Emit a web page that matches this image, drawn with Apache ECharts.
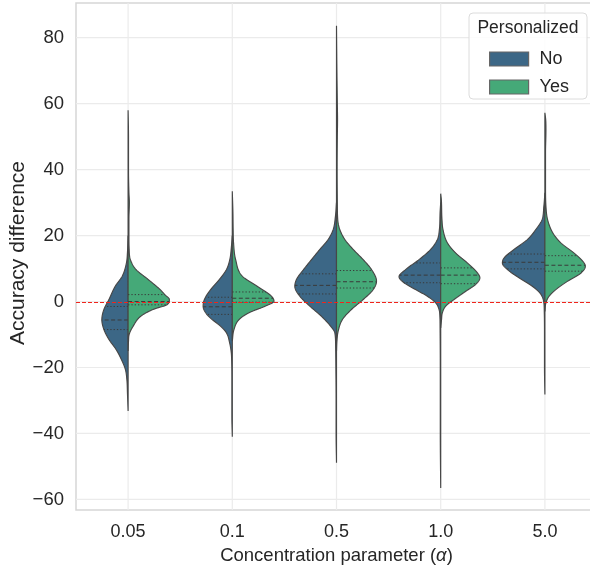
<!DOCTYPE html>
<html>
<head>
<meta charset="utf-8">
<script src="https://cdn.jsdelivr.net/npm/echarts@6/dist/echarts.min.js"></script>
<style>html,body{margin:0;padding:0;background:#fff}#c{width:590px;height:566px}</style>
</head>
<body>
<div id="c"></div>
<script>
// ---------------- data ----------------
const categories = ['0.05', '0.1', '0.5', '1.0', '5.0'];
const hues = ['No', 'Yes'];
const yTicks = [-60, -40, -20, 0, 20, 40, 60, 80];
const xTitle = 'Concentration parameter ({i|α})';
const yTitle = 'Accuracy difference';
const legendTitle = 'Personalized';

// density profiles: [value, relative density]
const densityNo = [
  [[-33.2,0],[-28,0.015],[-23.6,0.03],[-20.6,0.065],[-17.6,0.16],[-14.5,0.29],[-11.5,0.46],[-8.5,0.58],[-5.5,0.63],[-2.4,0.58],[0.6,0.46],[4.6,0.31],[7.7,0.14],[11.7,0.04],[15,0.015],[20,0]],
  [[-41,0],[-35,0.01],[-25,0.01],[-18,0.015],[-15.5,0.025],[-12.5,0.065],[-9.5,0.14],[-7.5,0.28],[-5.5,0.48],[-3.4,0.64],[-1.4,0.7],[0.6,0.67],[3.6,0.52],[6.7,0.31],[9.7,0.14],[12.7,0.06],[16.8,0.02],[20,0]],
  [[-48.9,0],[-40,0.01],[-30,0.01],[-20,0.015],[-14,0.02],[-9.5,0.04],[-7.5,0.14],[-4.5,0.36],[-1.4,0.64],[1.6,0.88],[4.6,1.0],[6.7,0.96],[9.7,0.79],[12.7,0.6],[15.8,0.4],[18.8,0.2],[21.8,0.08],[25.9,0.025],[30,0]],
  [[-56.5,0],[-40,0.01],[-20,0.01],[-8,0.015],[-4.5,0.02],[-2.4,0.04],[-0.4,0.12],[1.6,0.32],[3.6,0.6],[5.7,0.88],[7.5,1.0],[9.7,0.84],[12.7,0.52],[15.8,0.24],[18.8,0.08],[22,0.03],[26.9,0.015],[30,0]],
  [[-28.2,0],[-20,0.01],[-10,0.01],[-3,0.015],[0.6,0.04],[2.6,0.12],[4.6,0.3],[7.2,0.62],[9.7,0.9],[11.7,1.02],[13.2,0.98],[15.8,0.74],[18.8,0.42],[21.8,0.22],[24.8,0.07],[28.9,0.025],[33,0]]
];
const densityYes = [
  [[-15,0],[-12,0.01],[-10,0.025],[-7.5,0.12],[-4.4,0.31],[-2.4,0.6],[-0.9,0.94],[0.6,0.99],[2.1,0.88],[3.6,0.77],[6.7,0.48],[9.7,0.19],[12.7,0.055],[16,0.025],[20,0.02],[25,0.02],[30,0.03],[33,0.02],[40,0.01],[50,0.01],[58,0]],
  [[-12,0],[-8.5,0.04],[-5.5,0.16],[-3.4,0.4],[-1.4,0.79],[0.1,1.0],[1.6,0.94],[4.6,0.6],[7.7,0.24],[12.7,0.08],[17.8,0.03],[22,0.02],[27,0.015],[33.4,0]],
  [[-15,0],[-12,0.01],[-9,0.04],[-5.5,0.14],[-2.4,0.36],[0.6,0.64],[3.6,0.88],[6.2,0.96],[9.7,0.84],[12.7,0.64],[15.8,0.4],[18.8,0.2],[21.8,0.08],[24.8,0.03],[30,0.02],[40,0.015],[50,0.02],[55,0.025],[60,0.02],[70,0.01],[83.6,0]],
  [[-8,0],[-5.5,0.02],[-3.4,0.04],[-1.4,0.12],[0.6,0.32],[3.1,0.6],[5.2,0.84],[7.2,0.94],[8.7,0.88],[11.7,0.64],[14.7,0.36],[17.8,0.16],[21.8,0.055],[25,0.03],[30.9,0.015],[32.7,0]],
  [[-3,0],[-0.4,0.025],[1.6,0.1],[3.6,0.26],[6.2,0.55],[8.7,0.87],[10.7,0.97],[12.2,0.91],[14.7,0.7],[17.8,0.38],[20.8,0.19],[24.8,0.065],[28.9,0.025],[35,0.015],[45,0.015],[52,0.025],[55,0.02],[57.2,0]]
];
// quartiles [q1, median, q3]
const quartilesNo  = [[-8.5,-5.6,-1.5],[-3.9,-1.6,1.3],[2.3,4.9,8.4],[5.7,8.0,11.7],[9.9,11.9,14.4]];
const quartilesYes = [[-1.0,0.0,2.1],[-0.2,1.0,2.9],[4.1,6.0,9.4],[5.4,8.0,10.2],[9.2,11.0,13.9]];

// ---------------- styling ----------------
const FONT = "'Liberation Sans', Arial, sans-serif";
const TXT = '#262626';
const COLORS = {No: '#3c6786', Yes: '#45a978'};
const OUTLINE = '#474747';

// monotone cubic interpolator (for drawing smooth outlines)
function makeInterp(pts) {
  const xs = pts.map(p => p[0]), ys = pts.map(p => p[1]);
  const n = xs.length, d = [], m = new Array(n);
  for (let i = 0; i < n - 1; i++) d.push((ys[i+1]-ys[i])/(xs[i+1]-xs[i]));
  m[0] = d[0]; m[n-1] = d[n-2];
  for (let i = 1; i < n - 1; i++) m[i] = (d[i-1]*d[i] <= 0) ? 0 : (d[i-1]+d[i])/2;
  for (let i = 0; i < n - 1; i++) {
    if (d[i] === 0) { m[i] = 0; m[i+1] = 0; continue; }
    const a = m[i]/d[i], b = m[i+1]/d[i], s = a*a + b*b;
    if (s > 9) { const t = 3/Math.sqrt(s); m[i] = t*a*d[i]; m[i+1] = t*b*d[i]; }
  }
  return function (x) {
    if (x <= xs[0]) return ys[0];
    if (x >= xs[n-1]) return ys[n-1];
    let i = 0; while (x > xs[i+1]) i++;
    const h = xs[i+1]-xs[i], t = (x-xs[i])/h, t2 = t*t, t3 = t2*t;
    return (2*t3-3*t2+1)*ys[i] + (t3-2*t2+t)*h*m[i] + (-2*t3+3*t2)*ys[i+1] + (t3-t2)*h*m[i+1];
  };
}

function violinSeries(hue, profiles, quarts, side) {
  const interps = profiles.map(makeInterp);
  return {
    type: 'custom', name: hue, z: 3,
    itemStyle: {color: COLORS[hue]},
    data: categories.map((c, i) => [i]),
    encode: {x: 0},
    renderItem: function (params, api) {
      const i = api.value(0);
      const prof = profiles[i], f = interps[i];
      const band = api.size([1, 0])[0];
      const scale = band * 0.4;
      const cx = api.coord([i, 0])[0];
      const v0 = prof[0][0], v1 = prof[prof.length-1][0];
      const pts = [];
      const N = 400;
      for (let k = 0; k <= N; k++) {
        const v = v0 + (v1 - v0) * k / N;
        const w = Math.max(0, f(v)) * scale;
        pts.push([cx + side * w, api.coord([i, v])[1]]);
      }
      pts.push([cx, api.coord([i, v1])[1]]);
      pts.push([cx, api.coord([i, v0])[1]]);
      const children = [{
        type: 'polygon', shape: {points: pts},
        style: {fill: COLORS[hue], stroke: OUTLINE, lineWidth: 1.15}
      }];
      quarts[i].forEach((q, qi) => {
        const y = api.coord([i, q])[1];
        const w = Math.max(0, f(q)) * scale;
        children.push({
          type: 'line', shape: {x1: cx, y1: y, x2: cx + side * w, y2: y},
          style: {stroke: '#3a3a3a', lineWidth: 1, lineDash: qi === 1 ? [4, 2.5] : [1.3, 2]}
        });
      });
      return {type: 'group', children: children};
    }
  };
}

const chart = echarts.init(document.getElementById('c'), null, {renderer: 'canvas'});
const option = {
  animation: false,
  backgroundColor: '#fff',
  textStyle: {fontFamily: FONT},
  grid: {left: 76, right: -7, top: 3, bottom: 56, containLabel: false, outerBoundsMode: 'none',
    show: true, borderColor: '#d6d6d6', borderWidth: 1.5, backgroundColor: '#fff'},
  xAxis: {
    type: 'category', data: categories, boundaryGap: true,
    axisLine: {show: false}, axisTick: {show: false}, splitLine: {show: false},
    axisLabel: {color: TXT, fontSize: 18, margin: 13, fontFamily: FONT},
    name: xTitle, nameLocation: 'middle', nameGap: 36,
    nameTextStyle: {color: TXT, fontSize: 18.5, fontFamily: FONT,
      rich: {i: {fontStyle: 'italic', fontSize: 18.5, color: TXT, fontFamily: FONT}}}
  },
  yAxis: {
    type: 'value', min: -63.2, max: 90.5,
    axisLine: {show: false}, axisTick: {show: false}, splitLine: {show: false},
    axisLabel: {color: TXT, fontSize: 18.5, margin: 12, fontFamily: FONT, customValues: yTicks,
      formatter: v => String(v).replace('-', '\u2212')}
  },
  legend: {
    orient: 'vertical', left: 484, top: 45, itemWidth: 39, itemHeight: 14, itemGap: 10,
    z: 12, selectedMode: false,
    textStyle: {color: TXT, fontSize: 18, fontFamily: FONT, padding: [0, 0, 0, 6]},
    data: hues.map(h => ({name: h, icon: 'rect', itemStyle: {color: COLORS[h], borderColor: '#666', borderWidth: 1.2}}))
  },
  graphic: [
    {type: 'rect', z: 10, shape: {x: 469, y: 13, width: 118, height: 86, r: 4},
     style: {fill: 'rgba(255,255,255,0.85)', stroke: '#dcdcdc', lineWidth: 1}},
    {type: 'text', z: 11, x: 528, y: 28,
     style: {text: legendTitle, fill: TXT, fontSize: 17.5, fontFamily: FONT, align: 'center', verticalAlign: 'middle'}},
    {type: 'text', z: 11, x: 18, y: 253, rotation: Math.PI / 2,
     style: {text: yTitle, fill: TXT, fontSize: 21, fontFamily: FONT, align: 'center', verticalAlign: 'middle'}}
  ],
  series: [
    // grid lines
    {
      type: 'custom', z: 1, silent: true, legendHoverLink: false,
      data: yTicks.map(v => [0, v, 'h']).concat(categories.map((c, i) => [i, 0, 'v'])),
      renderItem: function (params, api) {
        const cs = params.coordSys;
        if (params.dataIndex < yTicks.length) {
          const y = api.coord([0, api.value(1)])[1];
          return {type: 'line', shape: {x1: cs.x, y1: y, x2: cs.x + cs.width, y2: y}, style: {stroke: '#ebebeb', lineWidth: 1.2}};
        }
        const x = api.coord([api.value(0), 0])[0];
        return {type: 'line', shape: {x1: x, y1: cs.y, x2: x, y2: cs.y + cs.height}, style: {stroke: '#ebebeb', lineWidth: 1.2}};
      }
    },
    violinSeries('No', densityNo, quartilesNo, -1),
    violinSeries('Yes', densityYes, quartilesYes, 1),
    // reference line at 0
    {
      type: 'custom', z: 5, silent: true,
      data: [[0, 0]],
      renderItem: function (params, api) {
        const cs = params.coordSys;
        const y = Math.round(api.coord([0, api.value(1)])[1]) + 0.5;
        return {type: 'line', shape: {x1: cs.x, y1: y, x2: cs.x + cs.width, y2: y}, style: {stroke: '#f0251c', lineWidth: 1.1, lineDash: [4, 2]}};
      }
    }
  ]
};
chart.setOption(option);
</script>
</body>
</html>
